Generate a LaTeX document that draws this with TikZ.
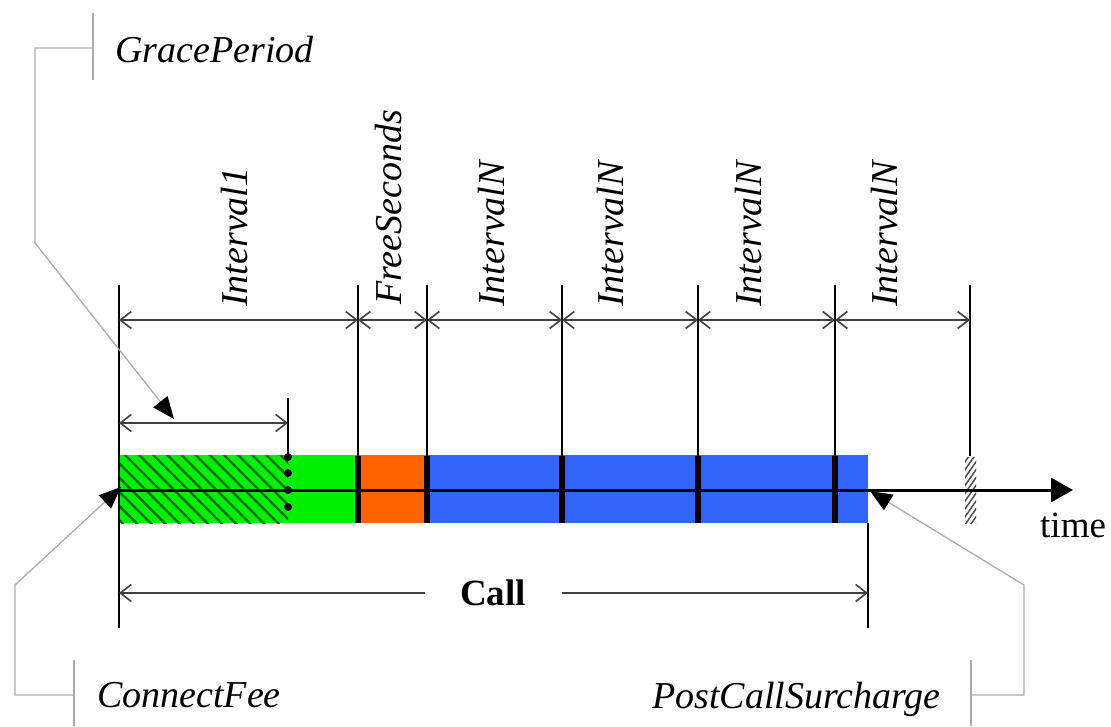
\documentclass[tikz,border=0pt]{standalone}
\usepackage{fontspec}
\setmainfont{Liberation Serif}
\usetikzlibrary{arrows.meta,patterns.meta}
\definecolor{cgreen}{RGB}{0,240,0}
\definecolor{corange}{RGB}{255,100,0}
\definecolor{cblue}{RGB}{50,100,250}
\definecolor{hatchgreen}{RGB}{10,110,20}
\tikzset{
  lbl/.style={font=\fontsize{38}{44}\selectfont\itshape, inner sep=0pt, anchor=base west},
  vlbl/.style={lbl, rotate=90},
  upl/.style={font=\fontsize{37}{44}\selectfont, inner sep=0pt, anchor=base west},
  thinv/.style={line width=2.4pt, black},
  thickbar/.style={line width=6.5pt, black},
  dimline/.style={line width=1.6pt, black!75, {Straight Barb[length=11pt,width=17pt]}-{Straight Barb[length=11pt,width=17pt]}},
  halfdim/.style={line width=1.6pt, black!75, -{Straight Barb[length=11pt,width=17pt]}},
  callout/.style={gray!65, line width=1.3pt},
  ctip/.style={callout, -{Triangle[length=22pt,width=18pt,color=black]}},
  tick/.style={gray!65, line width=1.3pt}
}
\begin{document}
\begin{tikzpicture}[x=1pt,y=-1pt]
\useasboundingbox (0,0) rectangle (1111,726);
% bar
\fill[cgreen] (119,455) rectangle (358,523);
\fill[corange] (358,455) rectangle (427,523);
\fill[cblue] (427,455) rectangle (868,523);
\fill[pattern={Lines[angle=-45,distance=10pt,line width=2.4pt]}, pattern color=hatchgreen] (119,455) rectangle (288,523);
% hatched mark
\fill[white] (965,457) rectangle (976,523);
\fill[pattern={Lines[angle=55,distance=4.5pt,line width=1.5pt]}, pattern color=black!70] (965,457) rectangle (976,523);
% coordinates of the time marks
\foreach \i/\x in {0/119,1/358,2/427,3/562,4/698,5/835,6/970}{
  \coordinate (t\i) at (\x,285);
  \coordinate (m\i) at (\x,456);
  \coordinate (d\i) at (\x,320);
}
\coordinate (b1) at (358,523);
\coordinate (b2) at (427,523);
\coordinate (b3) at (562,523);
\coordinate (b4) at (698,523);
\coordinate (b5) at (835,523);
% axis
\coordinate (axs) at (119,490);
\coordinate (axe) at (1073,490);
\draw[line width=3pt, -{Triangle[length=22pt,width=24pt]}] (axs) -- (axe);
% vertical lines
\coordinate (l0) at (119,628);
\draw[thinv] (t0) -- (l0);
\foreach \i in {1,...,6}{ \draw[thinv] (t\i) -- (m\i); }
\foreach \i in {1,...,5}{ \draw[thickbar] (m\i) -- (b\i); }
% dimension arrows
\draw[dimline] (d0) -- (d1);
\draw[dimline] (d1) -- (d2);
\draw[dimline] (d2) -- (d3);
\draw[dimline] (d3) -- (d4);
\draw[dimline] (d4) -- (d5);
\draw[dimline] (d5) -- (d6);
% labels
\node[vlbl] (i1) at (247,307) {Interval1};
\node[vlbl] (fs) at (401,305) {FreeSeconds};
\node[vlbl] (n1) at (504,307) {IntervalN};
\node[vlbl] (n2) at (623,307) {IntervalN};
\node[vlbl] (n3) at (761,307) {IntervalN};
\node[vlbl] (n4) at (897,307) {IntervalN};
% grace period sub interval
\coordinate (g0) at (119,423);
\coordinate (g1) at (288,423);
\coordinate (gt) at (288,398);
\coordinate (gb) at (288,456);
\draw[thinv] (gt) -- (gb);
\draw[dimline] (g0) -- (g1);
\foreach \y in {457,473,490,507}{ \fill (288,\y) circle (4pt); }
% call
\coordinate (c0) at (119,593);
\coordinate (c1) at (868,593);
\coordinate (ct) at (868,523);
\coordinate (cb) at (868,628);
\draw[thinv] (ct) -- (cb);
\node[upl, font=\fontsize{37}{44}\selectfont\bfseries] (call) at (460,605) {Call};
\coordinate (cl) at (425,593);
\coordinate (cr) at (562,593);
\draw[halfdim] (cl) -- (c0);
\draw[halfdim] (cr) -- (c1);
% time label
\node[upl] (time) at (1040,537) {time};
% GracePeriod callout
\node[lbl] (gp) at (115,62) {GracePeriod};
\coordinate (gpt1) at (93,13);
\coordinate (gpt2) at (93,80);
\coordinate (gpa) at (93,48);
\coordinate (gpb) at (35,48);
\coordinate (gpc) at (35,243);
\coordinate (gpd) at (174,419);
\draw[tick] (gpt1) -- (gpt2);
\draw[ctip] (gpa) -- (gpb) -- (gpc) -- (gpd);
% ConnectFee callout
\node[lbl] (cf) at (97,707) {ConnectFee};
\coordinate (cft1) at (74,660);
\coordinate (cft2) at (74,726);
\coordinate (cfa) at (74,695);
\coordinate (cfb) at (15,695);
\coordinate (cfc) at (15,585);
\coordinate (cfd) at (121,487);
\draw[tick] (cft1) -- (cft2);
\draw[ctip] (cfa) -- (cfb) -- (cfc) -- (cfd);
% PostCallSurcharge callout
\node[lbl] (pcs) at (652,708) {PostCallSurcharge};
\coordinate (pt1) at (971,660);
\coordinate (pt2) at (971,726);
\coordinate (pa) at (971,695);
\coordinate (pb) at (1024,695);
\coordinate (pc) at (1024,585);
\coordinate (pd) at (870,491);
\draw[tick] (pt1) -- (pt2);
\draw[ctip] (pa) -- (pb) -- (pc) -- (pd);
\end{tikzpicture}
\end{document}
